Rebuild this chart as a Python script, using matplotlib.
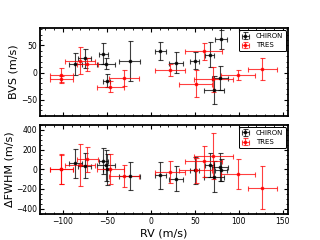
import matplotlib
matplotlib.use("Agg")
import matplotlib.pyplot as plt
from matplotlib.ticker import MultipleLocator

# CHIRON data
chiron_rv = [-86, -75, -54, -51, -50, -24, 11, 29, 50, 67, 72, 79, 80]
chiron_rv_err = [7.5, 7.5, 5, 10, 4, 12, 6, 8, 5, 5, 11, 9, 7]
chiron_bvs = [16, 26, 35, 16, -15, 21, 40, 18, 22, 33, -32, -10, 61]
chiron_bvs_err = [20, 18, 20, 10, 12, 37, 17, 19, 15, 23, 26, 22, 17]
chiron_fwhm = [60, 38, 84, 40, 0, -68, -62, -98, -12, 45, -75, 25, -5]
chiron_fwhm_err = [145, 130, 130, 160, 160, 140, 135, 127, 140, 124, 160, 140, 110]

# TRES data
tres_rv = [-102, -102, -81, -72, -46, -30, 22, 51, 60, 71, 99, 127]
tres_rv_err = [13, 13, 17, 12, 15, 17, 17, 19, 21, 22, 19, 16]
tres_bvs = [-5, -12, 22, 15, -26, -10, 5, -21, 39, -12, -4, 6]
tres_bvs_err = [14, 6, 25, 12, 10, 14, 11, 25, 16, 23, 9, 20]
tres_fwhm = [0, 5, 45, 100, 5, -68, -30, -10, 80, 135, -48, -188]
tres_fwhm_err = [150, 150, 215, 127, 150, 110, 113, 130, 160, 230, 152, 217]

fig = plt.figure(figsize=(3.2, 2.4), dpi=100)
ax1 = fig.add_axes([0.125, 0.517, 0.775, 0.366])
ax2 = fig.add_axes([0.125, 0.108, 0.775, 0.371])

ekw = dict(fmt='s', markersize=1.5, elinewidth=0.8, capsize=1.8, capthick=0.8, alpha=0.75)

for ax, cy, cye, ty, tye in [(ax1, chiron_bvs, chiron_bvs_err, tres_bvs, tres_bvs_err),
                             (ax2, chiron_fwhm, chiron_fwhm_err, tres_fwhm, tres_fwhm_err)]:
    ax.errorbar(chiron_rv, cy, xerr=chiron_rv_err, yerr=cye, color='black', label='CHIRON', **ekw)
    ax.errorbar(tres_rv, ty, xerr=tres_rv_err, yerr=tye, color='red', label='TRES', **ekw)
    ax.set_xlim(-126, 156)
    ax.tick_params(which='both', direction='in', top=True, right=True, labelsize=5.5, pad=2)
    ax.tick_params(which='major', length=3, width=0.8)
    ax.tick_params(which='minor', length=1.5, width=0.6)
    ax.xaxis.set_major_locator(MultipleLocator(50))
    ax.xaxis.set_minor_locator(MultipleLocator(10))
    for s in ax.spines.values():
        s.set_linewidth(1.3)
    leg = ax.legend(loc='upper right', fontsize=5, frameon=True, fancybox=True,
                    framealpha=1, edgecolor='black', borderpad=0.4, handlelength=1.0,
                    handletextpad=1.0, labelspacing=0.5, borderaxespad=0.3)
    leg.get_frame().set_linewidth(0.7)

ax1.set_ylim(-80, 82)
ax1.yaxis.set_major_locator(MultipleLocator(50))
ax1.yaxis.set_minor_locator(MultipleLocator(10))
ax1.tick_params(labelbottom=False)
ax1.set_ylabel('BVS (m/s)', fontsize=8, labelpad=2)

ax2.set_ylim(-455, 450)
ax2.yaxis.set_major_locator(MultipleLocator(200))
ax2.yaxis.set_minor_locator(MultipleLocator(50))
ax2.set_ylabel('ΔFWHM (m/s)', fontsize=8, labelpad=1)
ax2.set_xlabel('RV (m/s)', fontsize=8, labelpad=2)

fig.savefig('out.png', dpi=100)
